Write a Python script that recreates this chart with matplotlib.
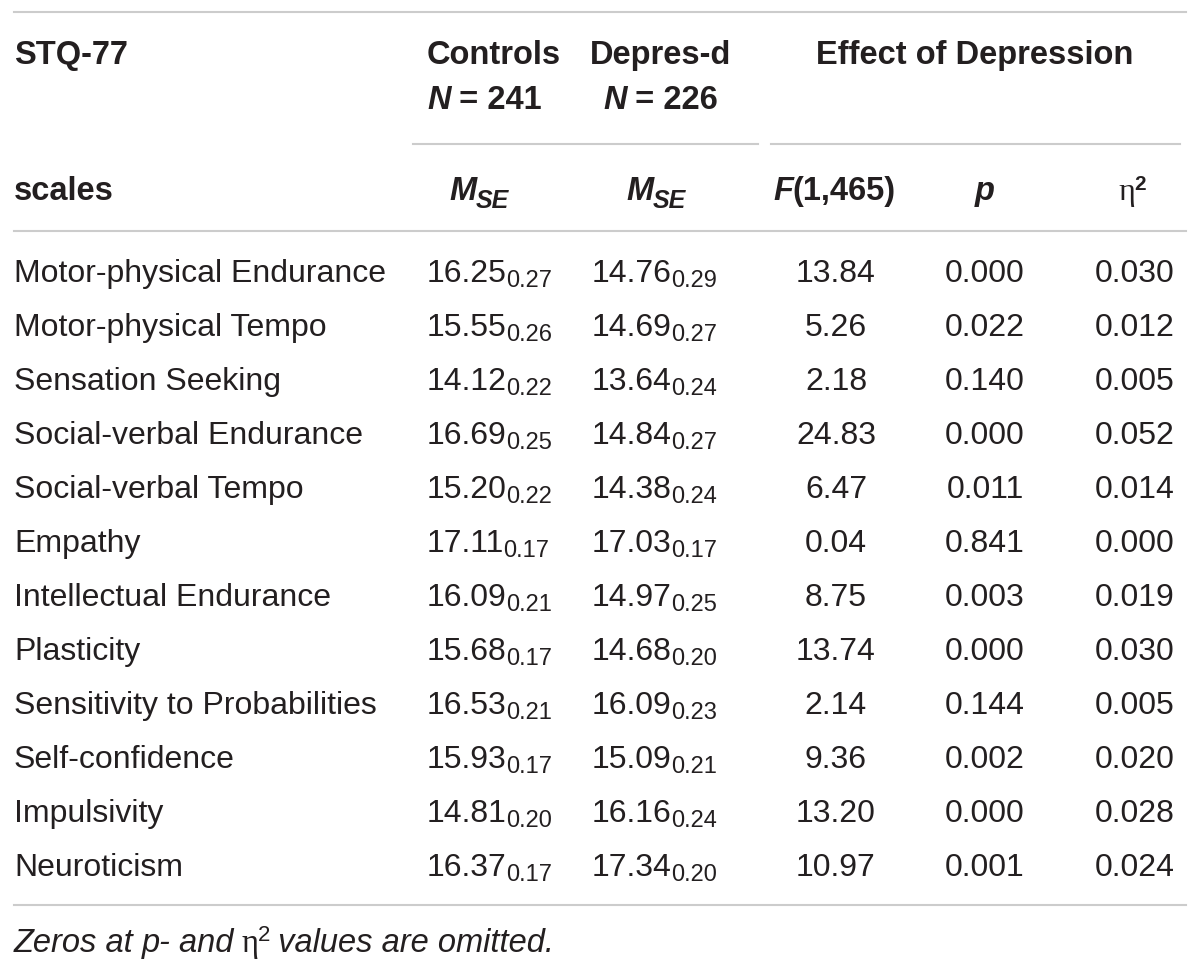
import matplotlib
matplotlib.use("Agg")
import matplotlib.pyplot as plt

# table content
scales = ["Motor-physical Endurance", "Motor-physical Tempo", "Sensation Seeking",
          "Social-verbal Endurance", "Social-verbal Tempo", "Empathy",
          "Intellectual Endurance", "Plasticity", "Sensitivity to Probabilities",
          "Self-confidence", "Impulsivity", "Neuroticism"]
ctrl_m = ["16.25", "15.55", "14.12", "16.69", "15.20", "17.11", "16.09", "15.68", "16.53", "15.93", "14.81", "16.37"]
ctrl_se = ["0.27", "0.26", "0.22", "0.25", "0.22", "0.17", "0.21", "0.17", "0.21", "0.17", "0.20", "0.17"]
dep_m = ["14.76", "14.69", "13.64", "14.84", "14.38", "17.03", "14.97", "14.68", "16.09", "15.09", "16.16", "17.34"]
dep_se = ["0.29", "0.27", "0.24", "0.27", "0.24", "0.17", "0.25", "0.20", "0.23", "0.21", "0.24", "0.20"]
f_vals = ["13.84", "5.26", "2.18", "24.83", "6.47", "0.04", "8.75", "13.74", "2.14", "9.36", "13.20", "10.97"]
p_vals = ["0.000", "0.022", "0.140", "0.000", "0.011", "0.841", "0.003", "0.000", "0.144", "0.002", "0.000", "0.001"]
eta_vals = ["0.030", "0.012", "0.005", "0.052", "0.014", "0.000", "0.019", "0.030", "0.005", "0.020", "0.028", "0.024"]

INK = "#231f20"
RULE = "#cccccc"
FS = 23
HFS = 23.5
SUB = 17
SANS = "Liberation Sans"
SERIF = "Liberation Serif"

fig = plt.figure(figsize=(12, 9.74), dpi=100)
ax = fig.add_axes([0, 0, 1, 1])
ax.set_xlim(0, 1200)
ax.set_ylim(974, 0)
ax.axis("off")
renderer = fig.canvas.get_renderer()


def rich(x, y, parts, ha="left"):
    # parts: (text, size, weight, style, family, dy)
    texts = []
    widths = []
    for s, size, weight, style, fam, dy in parts:
        t = ax.text(0, y + dy, s, fontsize=size, fontweight=weight, fontstyle=style,
                    family=fam, color=INK, ha="left", va="baseline")
        texts.append(t)
        widths.append(t.get_window_extent(renderer).width)
    total = sum(widths)
    if ha == "center":
        x0 = x - total / 2
    elif ha == "right":
        x0 = x - total
    else:
        x0 = x
    for t, w in zip(texts, widths):
        t.set_x(x0)
        x0 += w - 1


def plain(s, w="normal", st="normal", size=FS, fam=SANS, dy=0):
    return (s, size, w, st, fam, dy)


# rules
ax.plot([14, 1186], [12, 12], color=RULE, lw=1.5)
ax.plot([413, 758], [144, 144], color=RULE, lw=1.5)
ax.plot([771, 1180], [144, 144], color=RULE, lw=1.5)
ax.plot([14, 1186], [231, 231], color=RULE, lw=1.5)
ax.plot([14, 1186], [905, 905], color=RULE, lw=1.5)

# header
rich(14, 64, [plain("STQ-77", "bold", size=HFS)])
rich(427, 64, [plain("Controls", "bold", size=HFS)])
rich(661, 64, [plain("Depres-d", "bold", size=HFS)], ha="center")
rich(975, 64, [plain("Effect of Depression", "bold", size=HFS)], ha="center")
rich(427, 109, [plain("N", "bold", "italic", HFS), plain(" = 241", "bold", size=HFS)])
rich(661, 109, [plain("N", "bold", "italic", HFS), plain(" = 226", "bold", size=HFS)], ha="center")

rich(14, 200, [plain("scales", "bold", size=HFS)])
for cx in (480, 657):
    rich(cx, 200, [plain("M", "bold", "italic", HFS), plain("SE", "bold", "italic", 18, dy=8)], ha="center")
rich(835, 200, [plain("F", "bold", "italic", HFS), plain("(1,465)", "bold", size=HFS)], ha="center")
rich(985, 200, [plain("p", "bold", "italic", HFS)], ha="center")
rich(1133, 200, [plain("\u03b7", "normal", "normal", FS, SERIF),
                 plain("2", "bold", "normal", 15, dy=-10)], ha="center")

# body
for i, name in enumerate(scales):
    y = 282 + i * 54
    rich(14, y, [plain(name)])
    rich(427, y, [plain(ctrl_m[i]), plain(ctrl_se[i], size=SUB, dy=5)])
    rich(592, y, [plain(dep_m[i]), plain(dep_se[i], size=SUB, dy=5)])
    rich(836, y, [plain(f_vals[i])], ha="center")
    rich(985, y, [plain(p_vals[i])], ha="center")
    rich(1135, y, [plain(eta_vals[i])], ha="center")

# footnote
rich(14, 952, [plain("Zeros at ", st="italic", size=HFS), plain("p", st="italic", size=HFS),
               plain("- and ", st="italic", size=HFS), plain("\u03b7", size=HFS, fam=SERIF),
               plain("2", size=16, dy=-11), plain(" values are omitted.", st="italic", size=HFS)])

fig.savefig("out.png", dpi=100)
